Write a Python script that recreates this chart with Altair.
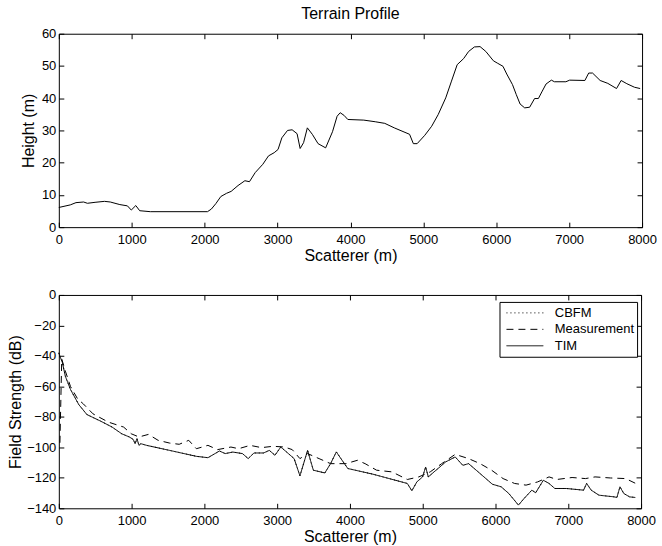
import altair as alt
import pandas as pd

# ---------------- data ----------------
terrain_x = [0, 157, 235, 340, 392, 497, 627, 706, 837, 941, 994, 1056, 1109, 1255,
             2039, 2092, 2154, 2222, 2301, 2364, 2458, 2552, 2615, 2693, 2798, 2876,
             2954, 3007, 3059, 3137, 3200, 3268, 3310, 3357, 3409, 3477, 3556, 3660,
             3754, 3817, 3859, 3911, 3964, 4183, 4340, 4471, 4601, 4811, 4863, 4915,
             5020, 5114, 5203, 5307, 5386, 5464, 5553, 5621, 5700, 5778, 5857, 5961,
             6014, 6092, 6144, 6223, 6275, 6327, 6390, 6458, 6526, 6578, 6631, 6683,
             6756, 6798, 6955, 7007, 7216, 7268, 7321, 7425, 7530, 7650, 7713, 7791,
             7896, 7974]
terrain_h = [6.1, 6.9, 7.6, 7.8, 7.4, 7.7, 8.0, 7.8, 7.0, 6.6, 5.3, 6.7, 5.1, 4.8,
             4.8, 5.6, 7.3, 9.5, 10.5, 11.1, 12.9, 14.4, 14.1, 16.9, 19.5, 22.1,
             23.1, 24.1, 27.7, 30.0, 30.2, 29.0, 24.4, 26.2, 30.8, 28.8, 25.9, 24.6,
             29.6, 34.4, 35.5, 34.7, 33.4, 33.2, 32.7, 32.2, 30.8, 28.8, 25.9, 25.9,
             28.5, 31.3, 34.9, 40.1, 45.3, 50.4, 52.3, 54.5, 55.9, 56.0, 54.5, 51.6,
             50.9, 49.9, 47.5, 44.2, 41.1, 38.2, 37.0, 37.2, 39.9, 39.9, 42.2, 44.4,
             45.6, 45.1, 45.1, 45.6, 45.5, 47.8, 47.8, 45.5, 44.6, 43.0, 45.5, 44.5,
             43.4, 43.0]

tim_x = [0, 20, 47, 90, 160, 275, 386, 574, 732, 864, 969, 1022, 1048, 1074, 1101,
         1127, 1206, 1522, 1890, 2049, 2128, 2207, 2286, 2391, 2523, 2602, 2681,
         2813, 2892, 2970, 3049, 3128, 3233, 3313, 3418, 3497, 3655, 3734, 3813,
         3892, 3971, 4314, 4788, 4851, 4919, 4998, 5040, 5077, 5156, 5235, 5314,
         5446, 5551, 5630, 5735, 5841, 5957, 6078, 6183, 6315, 6394, 6499, 6552,
         6657, 6736, 6815, 6973, 7210, 7252, 7315, 7421, 7631, 7668, 7710, 7763,
         7842, 7921]
tim_db = [-38, -41, -44, -53.4, -62, -72, -78.5, -82.8, -86.7, -91.1, -93.2, -94.8,
          -97.6, -94.3, -98.7, -97.6, -98.7, -102, -105.9, -106.8, -104.6, -102.4,
          -104.1, -103.1, -104.1, -107.4, -103.7, -103.7, -102, -105.2, -99.8, -103,
          -107.4, -118.7, -102, -115, -116.8, -110.7, -103, -108.5, -113.9, -117.6,
          -123.7, -128.5, -122.7, -119.4, -112.9, -119.4, -116.1, -112.9, -109.6,
          -106.3, -111.8, -110.7, -115, -119.4, -124.2, -125.9, -130.3, -137.9,
          -133.5, -128.1, -129.8, -121.6, -123.7, -127, -127, -128.1, -123.7, -128.1,
          -131.4, -132.5, -132.9, -125.9, -130.3, -132.5, -132.9]

# CBFM coincides with TIM everywhere in the picture
cbfm_x = list(tim_x)
cbfm_db = list(tim_db)

meas_x = [15, 40, 90, 160, 258, 337, 469, 679, 890, 995, 1101, 1232, 1364, 1522,
          1654, 1785, 1890, 2049, 2181, 2365, 2470, 2628, 2786, 2944, 3102, 3207,
          3313, 3418, 3576, 3734, 3945, 4103, 4208, 4366, 4577, 4788, 4946, 5103,
          5261, 5446, 5630, 5788, 5946, 6104, 6262, 6420, 6578, 6736, 6841, 7052,
          7236, 7368, 7579, 7789, 7974]
meas_db = [-97, -42, -50, -60, -68.2, -71.5, -78, -83.4, -86.7, -91.1, -93.2,
           -91.5, -95.4, -97.2, -98, -95.4, -100.9, -98.7, -101.5, -99.8, -100.9,
           -98.7, -100.2, -99.3, -99.8, -101.5, -107.4, -104.1, -107.4, -110.7,
           -110.7, -108.5, -110.7, -115, -116.1, -121.1, -119.4, -116.1, -110.7,
           -104.6, -107.4, -110.7, -115, -120.5, -123.7, -124.8, -122.7, -119.4,
           -121.1, -119.8, -120.5, -119.4, -120.1, -120.5, -124.8]

series_names = ["CBFM", "Measurement", "TIM"]
x_ticks = [0, 1000, 2000, 3000, 4000, 5000, 6000, 7000, 8000]
height_ticks = [0, 10, 20, 30, 40, 50, 60]
db_ticks = [-140, -120, -100, -80, -60, -40, -20, 0]

# ---------------- tables ----------------
terrain_df = pd.DataFrame({"x": terrain_x, "h": terrain_h})
field_df = pd.concat([
    pd.DataFrame({"series": "CBFM", "x": cbfm_x, "db": cbfm_db}),
    pd.DataFrame({"series": "Measurement", "x": meas_x, "db": meas_db}),
    pd.DataFrame({"series": "TIM", "x": tim_x, "db": tim_db}),
], ignore_index=True)

FONT = "Liberation Sans"


def axis(orient, values, title=None, labels=True, title_padding=4, label_padding=3):
    kw = dict(orient=orient, values=values, domain=False, grid=False, format="d",
              ticks=True, tickSize=5, tickColor="black", tickWidth=1, offset=-5,
              labels=labels, labelFlush=False, labelOverlap=False,
              labelFont=FONT, labelFontSize=13, labelColor="black",
              labelPadding=label_padding, title=title)
    if title is not None:
        kw.update(titleFont=FONT, titleFontSize=16, titleFontWeight="normal",
                  titleColor="black", titlePadding=title_padding)
    return alt.Axis(**kw)


xscale = alt.Scale(domain=[0, 8000], nice=False, zero=False)

# ---------------- top panel ----------------
top_line = alt.Chart(terrain_df).mark_line(color="black", strokeWidth=1).encode(
    x=alt.X("x:Q", scale=xscale,
            axis=axis("bottom", x_ticks, "Scatterer (m)", title_padding=1, label_padding=6)),
    y=alt.Y("h:Q", scale=alt.Scale(domain=[0, 60], nice=False),
            axis=axis("left", height_ticks, "Height (m)", title_padding=5)),
)
top_frame = alt.Chart(terrain_df).mark_line(opacity=0).encode(
    x=alt.X("x:Q", scale=xscale, axis=axis("top", x_ticks, labels=False)),
    y=alt.Y("h:Q", axis=axis("right", height_ticks, labels=False)),
)
top = alt.layer(top_line, top_frame).resolve_axis(
    x="independent", y="independent"
).properties(
    width=585, height=194,
    title=alt.TitleParams("Terrain Profile", font=FONT, fontSize=16,
                          fontWeight="normal", color="black", offset=6,
                          anchor="middle"),
)

# ---------------- bottom panel ----------------
bot_line = alt.Chart(field_df).mark_line(color="black", strokeWidth=1).encode(
    x=alt.X("x:Q", scale=xscale,
            axis=axis("bottom", x_ticks, "Scatterer (m)", title_padding=1, label_padding=6)),
    y=alt.Y("db:Q", scale=alt.Scale(domain=[-140, 0], nice=False),
            axis=axis("left", db_ticks, "Field Strength (dB)", title_padding=3)),
    strokeDash=alt.StrokeDash(
        "series:N",
        scale=alt.Scale(domain=series_names, range=[[1, 3], [7, 5], [1, 0]]),
        legend=alt.Legend(
            orient="none", legendX=442, legendY=269, title=None,
            symbolType="stroke", symbolSize=1369, symbolStrokeWidth=1,
            symbolStrokeColor="black", clipHeight=16, rowPadding=0.5,
            padding=3, labelOffset=11, symbolOffset=3.5,
            strokeColor="black", fillColor="white", cornerRadius=0,
            labelFont=FONT, labelFontSize=13, labelColor="black",
        ),
    ),
    detail="series:N",
)
bot_frame = alt.Chart(field_df).mark_line(opacity=0).encode(
    x=alt.X("x:Q", scale=xscale, axis=axis("top", x_ticks, labels=False)),
    y=alt.Y("db:Q", axis=axis("right", db_ticks, labels=False)),
    detail="series:N",
)
bottom = alt.layer(bot_line, bot_frame).resolve_axis(
    x="independent", y="independent"
).properties(width=584, height=214)

chart = alt.vconcat(top, bottom, spacing=68, bounds="flush").configure(
    padding={"left": 7, "top": 4, "right": 5, "bottom": 5},
    font=FONT,
    background="white",
).configure_view(stroke="black", strokeWidth=1)

chart.save("out.html", embed_options={"renderer": "svg", "actions": False})
